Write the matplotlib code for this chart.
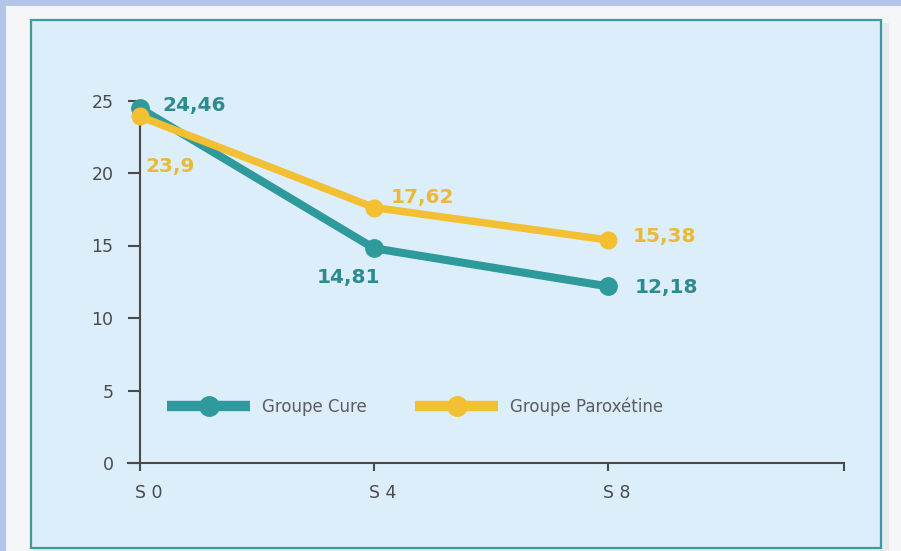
import matplotlib
matplotlib.use("Agg")
import matplotlib.pyplot as plt
from matplotlib.patches import Rectangle

# Data: weekly scores for the two treatment groups
weeks = [0, 4, 8]
week_labels = ["S 0", "S 4", "S 8"]
cure_values = [24.46, 14.81, 12.18]
paroxetine_values = [23.9, 17.62, 15.38]
series_names = ["Groupe Cure", "Groupe Paroxétine"]
y_ticks = [0, 5, 10, 15, 20, 25]

TEAL = "#2f9a9c"
TEAL_TXT = "#2d8b8e"
YELLOW = "#f3bf33"
YELLOW_TXT = "#e9b93c"
AXIS = "#4a4a4e"
LEGEND_TXT = "#5b5d63"

W, H = 901, 551
fig = plt.figure(figsize=(W / 100, H / 100), dpi=100)
fig.patch.set_facecolor("#b3c5e9")

def px_rect(x0, y0_top, x1, y1_top, **kw):
    """Rectangle given in pixel coordinates measured from the top-left."""
    return Rectangle((x0 / W, 1 - y1_top / H), (x1 - x0) / W, (y1_top - y0_top) / H,
                     transform=fig.transFigure, **kw)

# paper, soft shadow and the framed panel
fig.patches.append(px_rect(6, 6, W + 2, H + 2, facecolor="#f5f6f8", edgecolor="none", zorder=-5))
fig.patches.append(px_rect(33, 23, 889, 551, facecolor="#e4e6ea", edgecolor="none", zorder=-4, alpha=0.7))
fig.patches.append(px_rect(31, 20, 881, 548, facecolor="#dceef9", edgecolor="#3f9a9e",
                           linewidth=1.6, zorder=-3))

# axes placed so that the y scale is 0..25 and weeks span S0..S12
x_left_px, x_right_px = 128, 844
y0_px, y25_px = 463, 100.5
ax = fig.add_axes([x_left_px / W, 1 - y0_px / H, (x_right_px - x_left_px) / W, (y0_px - y25_px) / H])
ax.set_facecolor("none")
px_per_week = (608 - 140) / 8
ax.set_xlim((x_left_px - 140) / px_per_week, (x_right_px - 140) / px_per_week)
ax.set_ylim(0, 25)

for side in ["top", "right"]:
    ax.spines[side].set_visible(False)
ax.spines["left"].set_position(("data", 0))
ax.spines["left"].set_bounds(0, 25)
for side in ["left", "bottom"]:
    ax.spines[side].set_color(AXIS)
    ax.spines[side].set_linewidth(1.5)

ax.set_yticks(y_ticks)
ax.set_yticklabels([str(t) for t in y_ticks])
ax.tick_params(axis="y", direction="out", length=8.6, width=1.5, color=AXIS,
               labelcolor=AXIS, labelsize=12.5, pad=10.5)

xmax = ax.get_xlim()[1]
ax.set_xticks(weeks + [xmax])
ax.set_xticklabels([""] * (len(weeks) + 1))
ax.tick_params(axis="x", direction="out", length=6, width=1.5, color=AXIS)
for wk, lab in zip(weeks, week_labels):
    ax.annotate(lab, xy=(wk, 0), xytext=(-5, -30), textcoords="offset pixels",
                ha="left", va="center", fontsize=12.5, color=AXIS)

# series
l1, = ax.plot(weeks, cure_values, color=TEAL, lw=5.8, marker="o", ms=12.5,
              solid_capstyle="round", label=series_names[0], clip_on=False, zorder=3)
l2, = ax.plot(weeks, paroxetine_values, color=YELLOW, lw=5.4, marker="o", ms=12,
              solid_capstyle="round", label=series_names[1], clip_on=False, zorder=4)

def fmt(v):
    return str(v).replace(".", ",")

# value labels (offsets in pixels)
cure_offsets = [(22, 3, "left"), (-26, -29, "center"), (27, -1, "left")]
parox_offsets = [(5, -50, "left"), (17, 10, "left"), (25, 3, "left")]
for wk, v, (dx, dy, ha) in zip(weeks, cure_values, cure_offsets):
    ax.annotate(fmt(v), xy=(wk, v), xytext=(dx, dy), textcoords="offset pixels",
                ha=ha, va="center", fontsize=14.5, fontweight="bold", color=TEAL_TXT,
                zorder=5)
for wk, v, (dx, dy, ha) in zip(weeks, paroxetine_values, parox_offsets):
    ax.annotate(fmt(v), xy=(wk, v), xytext=(dx, dy), textcoords="offset pixels",
                ha=ha, va="center", fontsize=14.5, fontweight="bold", color=YELLOW_TXT,
                zorder=5)

# legend
leg = ax.legend(handles=[l1, l2], ncol=2, frameon=False, loc="center left",
                bbox_to_anchor=(167 / W, 1 - 407 / H), bbox_transform=fig.transFigure,
                borderpad=0, borderaxespad=0, handlelength=5.0, handletextpad=0.7,
                columnspacing=2.9, numpoints=1, prop={"size": 12})
for t in leg.get_texts():
    t.set_color(LEGEND_TXT)
for h in leg.legend_handles:
    h.set_linewidth(7.5)
    h.set_markersize(14)
    h.set_solid_capstyle("butt")

fig.savefig("out.png", dpi=100, facecolor=fig.get_facecolor())
